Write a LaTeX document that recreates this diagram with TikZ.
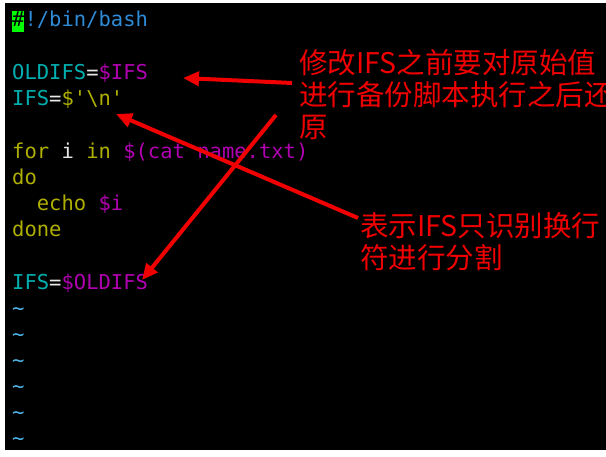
\documentclass[tikz,border=0pt]{standalone}
\usepackage{fontspec}
\setmonofont{DejaVu Sans Mono}
\newfontfamily\cjk{Noto Sans CJK SC}
\usetikzlibrary{arrows.meta}
\definecolor{cy}{HTML}{00AFAF}
\definecolor{mg}{HTML}{B000B0}
\definecolor{yl}{HTML}{AFAF00}
\definecolor{bl}{HTML}{2E8BD8}
\definecolor{tl}{HTML}{4FB6E8}
\definecolor{wt}{HTML}{E8E8E8}
\definecolor{gr}{HTML}{00FF00}
\definecolor{rd}{HTML}{F00000}
\tikzset{code/.style={anchor=base west,inner sep=0,font=\ttfamily\fontsize{20.5}{24}\selectfont},
note/.style={anchor=north west,inner sep=0,align=left,text=rd,font=\cjk\fontsize{28.5}{32}\selectfont},
arr/.style={draw=rd,line width=4pt,-{Triangle[length=16pt,width=14pt]}}}
\begin{document}
\begin{tikzpicture}[x=1pt,y=-1pt]
\useasboundingbox (0,0) rectangle (606,457);
\fill[white] (0,0) rectangle (606,457);
\fill[black] (5,3) rectangle (606,450);
\begin{scope}
\clip (5,3) rectangle (606,450);
\fill[gr] (12,11) rectangle (24,32);
\node[code] (l1) at (12,27) {\textcolor{black}{\#}\textcolor{bl}{!/bin/bash}};
\node[code] (l2) at (12,80) {\textcolor{cy}{OLDIFS}\textcolor{wt}{=}\textcolor{mg}{\$IFS}};
\node[code] (l3) at (12,106) {\textcolor{cy}{IFS}\textcolor{wt}{=}\textcolor{yl}{\$'\textbackslash n'}};
\node[code] (l4) at (12,159) {\textcolor{yl}{for} \textcolor{wt}{i} \textcolor{yl}{in} \textcolor{mg}{\$(cat name.txt)}};
\node[code,text=yl] (l5) at (12,185) {do};
\node[code,text=yl] (l6) at (12,211) {\ \ echo \textcolor{mg}{\$i}};
\node[code,text=yl] (l7) at (12,237) {done};
\node[code] (l8) at (12,290) {\textcolor{cy}{IFS}\textcolor{wt}{=}\textcolor{mg}{\$OLDIFS}};
\foreach \i/\y in {1/316,2/342,3/368,4/394,5/420,6/446}
  \node[code,text=tl] (t\i) at (12,\y) {\textasciitilde};
\node[note] (n1) at (299,49) {修改IFS之前要对原始值\\进行备份脚本执行之后还\\原};
\node[note] (n2) at (360,212) {表示IFS只识别换行\\符进行分割};
\coordinate (a1) at (292,83);
\coordinate (a2) at (358,218);
\coordinate (a3) at (276,115);
\coordinate (h1) at (183,78);
\coordinate (h2) at (116,114);
\coordinate (h3) at (142,280);
\draw[arr] (a1) -- (h1);
\draw[arr] (a2) -- (h2);
\draw[arr] (a3) -- (h3);
\end{scope}
\end{tikzpicture}
\end{document}
